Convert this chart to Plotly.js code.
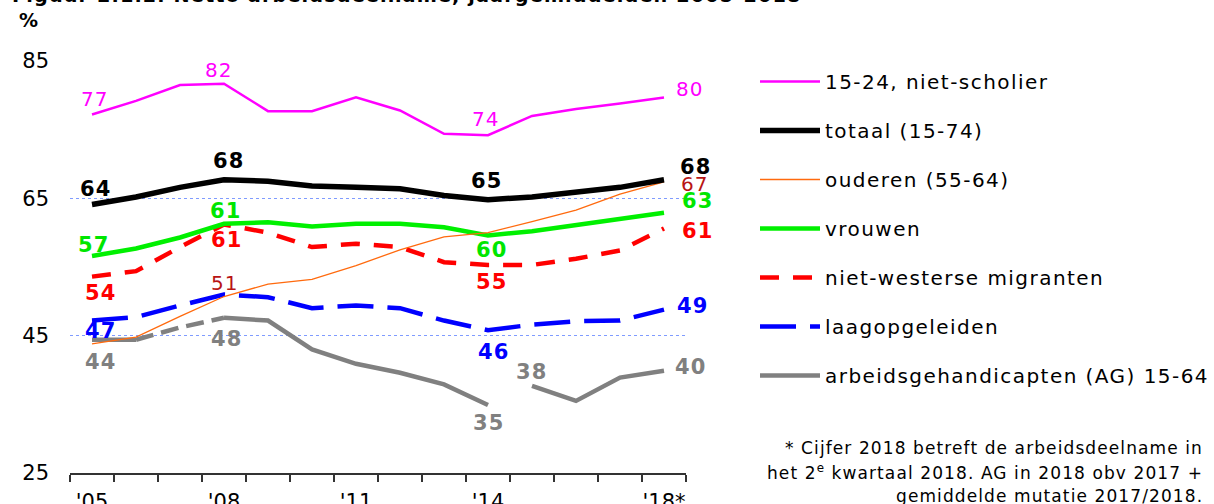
<!DOCTYPE html>
<html>
<head>
<meta charset="utf-8">
<script src="https://cdn.plot.ly/plotly-3.0.1.min.js"></script>
<style>
html,body{margin:0;padding:0;background:#fff;}
#chart{width:1214px;height:504px;}
.legendtext{letter-spacing:1.45px;}
.annotation-text{letter-spacing:1.1px;}
</style>
</head>
<body>
<div id="chart"></div>
<script>
// ---- data ----
const years = [2005,2006,2007,2008,2009,2010,2011,2012,2013,2014,2015,2016,2017,2018];
const tickYears = [2005,2008,2011,2014,2018];
const tickLabels = ["'05","'08","'11","'14","'18*"];

const jongeren = [77.2,79.2,81.5,81.7,77.7,77.7,79.7,77.8,74.4,74.2,77.0,78.0,78.8,79.7];
const totaal   = [64.1,65.2,66.6,67.7,67.5,66.8,66.6,66.4,65.4,64.8,65.2,65.8,66.6,67.7];
const ouderen  = [43.8,44.8,47.8,50.7,52.5,53.2,55.2,57.5,59.4,60.0,61.6,63.3,65.6,67.4];
const vrouwen  = [56.6,57.7,59.3,61.3,61.5,60.9,61.3,61.3,60.8,59.6,60.2,61.1,62.0,62.9];
const migranten= [53.6,54.4,57.9,61.2,60.0,57.9,58.4,57.9,55.7,55.3,55.3,56.2,57.4,60.6];
const laagopg  = [47.2,47.7,49.4,51.0,50.6,49.0,49.4,49.0,47.2,45.8,46.6,47.1,47.2,48.8];
const ag       = [44.4,44.4,46.2,47.6,47.2,43.0,40.9,39.6,37.9,34.9,37.7,35.5,38.9,39.9];

const names = ["15-24, niet-scholier","totaal (15-74)","ouderen (55-64)","vrouwen",
               "niet-westerse migranten","laagopgeleiden","arbeidsgehandicapten (AG) 15-64"];

const titleText = "Figuur 2.1.2. Netto arbeidsdeelname, jaargemiddelden 2005-2018";
const noteLines = ["* Cijfer 2018 betreft de arbeidsdeelname in",
                   "het 2<sup>e</sup> kwartaal 2018. AG in 2018 obv 2017 +",
                   "gemiddelde mutatie 2017/2018."];

// ---- styles ----
const F = "DejaVu Sans, Verdana, sans-serif";
const series = [
  {y: jongeren,  color:'#FF00FF', width:2.5, dash:'solid', lab:'#FF00FF', bold:false},
  {y: totaal,    color:'#000000', width:5.5, dash:'solid', lab:'#000000', bold:true},
  {y: ouderen,   color:'#FF6A0E', width:1.3, dash:'solid', lab:'#B81414', bold:false},
  {y: vrouwen,   color:'#00F000', width:4.5, dash:'solid', lab:'#00E600', bold:true},
  {y: migranten, color:'#FF0000', width:4.5, dash:'19px,14px', lab:'#FF0000', bold:true},
  {y: laagopg,   color:'#0000FF', width:4.5, dash:'36px,14px', lab:'#0000FF', bold:true},
  {y: ag,        color:'#808080', width:4.5, dash:'solid', lab:'#808080', bold:true}
];
// draw order (bottom -> top)
const drawOrder = [6,5,4,3,2,1,0];
const agSegments = [[0,1,'solid'],[1,3,'18px,8px'],[3,9,'solid'],[10,13,'solid']];

// labels: [series, yearIndex, dx, dy]
const labels = [
  [0,0,3,16],[0,3,-5,14],[0,9,-2,16],[0,13,26,8],
  [1,0,3,16],[1,3,4,19],[1,9,-2,19],[1,13,31,13],
  [2,3,1,14],[2,13,31,-2],
  [3,0,1,11],[3,3,1,13],[3,9,3,-15],[3,13,33,12],
  [4,0,8,-16],[4,3,2,-16],[4,9,3,-17],[4,13,33,-2],
  [5,0,8,-10],[5,9,5,-22],[5,13,28,4],
  [6,0,8,-22],[6,3,2,-21],[6,9,0,-18],[6,10,-1,14],[6,13,26,4]
];

const traces = [];
drawOrder.forEach(function(si){
  const s = series[si];
  if (si === 6) {
    agSegments.forEach(function(seg, k){
      traces.push({
        type:'scatter', mode:'lines', name:names[si],
        x: years.slice(seg[0], seg[1]+1), y: s.y.slice(seg[0], seg[1]+1),
        line:{color:s.color, width:s.width, dash:seg[2]},
        legendgroup:'g'+si, showlegend:(k===0), legendrank: si+1,
        hoverinfo:'skip'
      });
    });
  } else {
    traces.push({
      type:'scatter', mode:'lines', name:names[si], x:years, y:s.y,
      line:{color:s.color, width:s.width, dash:s.dash},
      legendgroup:'g'+si, legendrank: si+1, hoverinfo:'skip'
    });
  }
});

const annotations = labels.map(function(l){
  const s = series[l[0]];
  const v = s.y[l[1]];
  return {
    x: years[l[1]], y: v, xref:'x', yref:'y', showarrow:false,
    xshift:l[2], yshift:l[3], text: String(Math.round(v)),
    font:{family:F, size: s.bold ? 21 : 20, color:s.lab, weight: s.bold ? 'bold' : 'normal'},
    xanchor:'center', yanchor:'middle'
  };
});
annotations.push({
  xref:'paper', yref:'paper', x:(29-70)/616, y:(473-20)/412, xanchor:'center', yanchor:'middle',
  text:'%', showarrow:false, font:{family:F, size:19, color:'#000', weight:'bold'}
});
annotations.push({
  xref:'paper', yref:'paper', x:(10-70)/616, y:(473+5)/412, xanchor:'left', yanchor:'middle',
  text:titleText, showarrow:false, font:{family:F, size:19.3, color:'#000', weight:'bold'}
});
const noteY = [448, 472, 496];
noteLines.forEach(function(t, i){
  annotations.push({
    xref:'paper', yref:'paper', x:(1205-70)/616, y:(473-noteY[i])/412,
    xanchor:'right', yanchor:'middle', text:t, showarrow:false, align:'right',
    font:{family:F, size:17, color:'#000'}
  });
});

const layout = {
  width:1214, height:504,
  margin:{l:70, r:528, t:61, b:31, pad:0, autoexpand:false},
  paper_bgcolor:'#fff', plot_bgcolor:'#fff',
  font:{family:F, size:20, color:'#000'},
  showlegend:true,
  legend:{x:(755-70)/616, y:(473-62)/412, xanchor:'left', yanchor:'top',
          font:{family:F, size:20, color:'#000'}, itemwidth:60,
          tracegroupgap:20, bgcolor:'rgba(0,0,0,0)', traceorder:'grouped'},
  xaxis:{
    range:[2004.5, 2018.5], showgrid:false, zeroline:false,
    showline:true, linecolor:'#333', linewidth:1.5,
    tickmode:'array', tickvals:tickYears, ticktext:tickLabels,
    ticks:'outside', ticklen:9, tickcolor:'rgba(0,0,0,0)',
    tickfont:{family:F, size:21, color:'#000'},
    minor:{tickmode:'linear', tick0:2004.5, dtick:1, ticks:'outside', ticklen:7,
           tickwidth:1.5, tickcolor:'#333', showgrid:false},
    fixedrange:true, automargin:false
  },
  yaxis:{
    range:[25, 85], tickmode:'linear', tick0:25, dtick:20,
    showgrid:true, gridcolor:'#7F9BFF', gridwidth:1, griddash:'dot',
    zeroline:false, showline:false, ticks:'', ticklabelstandoff:20,
    tickfont:{family:F, size:21, color:'#000'}, fixedrange:true, automargin:false
  },
  annotations:annotations
};

Plotly.newPlot('chart', traces, layout, {displayModeBar:false, staticPlot:true});
</script>
</body>
</html>
